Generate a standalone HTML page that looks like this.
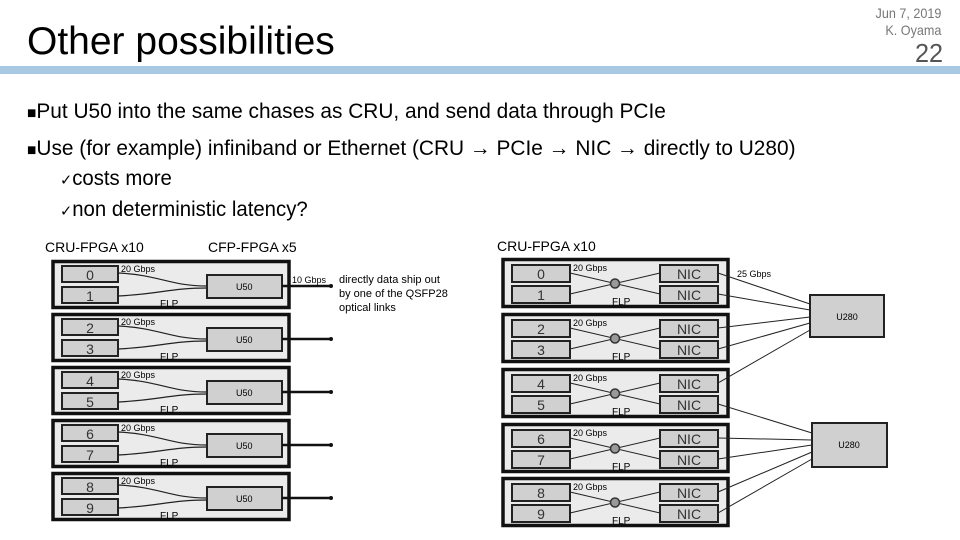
<!DOCTYPE html>
<html><head><meta charset="utf-8"><style>
body{margin:0;width:960px;height:540px;overflow:hidden;background:#fff;font-family:"Liberation Sans",sans-serif;position:relative}
.t{position:absolute;white-space:nowrap;transform-origin:0 0;transform:scaleX(0.97)}
</style></head><body>
<div class="t" style="left:27px;top:20px;font-size:39px;color:#000;transform:none">Other possibilities</div>
<div class="t" style="left:873px;top:5px;font-size:14px;color:#777;text-align:right;line-height:17px;width:76px;transform:scaleX(0.9)">Jun 7, 2019<br>K. Oyama</div>
<div class="t" style="left:915px;top:38px;font-size:26px;color:#555">22</div>
<div style="position:absolute;left:0;top:66px;width:960px;height:8px;background:#a8c8e4"></div>
<div class="t" style="left:27px;top:99px;font-size:21.5px;"><span style="font-size:16px">■</span>Put U50 into the same chases as CRU, and send data through PCIe</div>
<div class="t" style="left:27px;top:136px;font-size:21.5px;"><span style="font-size:16px">■</span>Use (for example) infiniband or Ethernet (CRU → PCIe → NIC → directly to U280)</div>
<div class="t" style="left:60px;top:167px;font-size:21px;"><span style="font-size:15px">✓</span>costs more</div>
<div class="t" style="left:60px;top:198px;font-size:21px;"><span style="font-size:15px">✓</span>non deterministic latency?</div>
<svg width="960" height="540" style="position:absolute;left:0;top:0" font-family="Liberation Sans, sans-serif">
<g font-size="14" fill="#000"><text x="45" y="252">CRU-FPGA x10</text><text x="208" y="252">CFP-FPGA x5</text><text x="497" y="251">CRU-FPGA x10</text></g>
<g font-size="11"><text x="339" y="283">directly data ship out</text><text x="339" y="297">by one of the QSFP28</text><text x="339" y="311">optical links</text>
<text x="292" y="283" font-size="9">10 Gbps</text><text x="737" y="277" font-size="9">25 Gbps</text></g>
<defs><g id="L" text-anchor="start">
<rect x="53" y="1.5" width="236" height="46" fill="#ebebeb" stroke="#111" stroke-width="3.5"/>
<rect x="62" y="6" width="56" height="16" fill="#d0d0d0" stroke="#222" stroke-width="2"/>
<rect x="62" y="27" width="56" height="16" fill="#d0d0d0" stroke="#222" stroke-width="2"/>
<rect x="207" y="15" width="75" height="23" fill="#d0d0d0" stroke="#222" stroke-width="2"/>
<path d="M118 13 C160 15 170 26 207 26 M118 36 C160 34 170 28 207 28" fill="none" stroke="#222" stroke-width="1.2"/>
<line x1="282" y1="26" x2="331" y2="26" stroke="#111" stroke-width="2.5"/>
<text x="121" y="12" font-size="9">20 Gbps</text><text x="160" y="47" font-size="10">FLP</text>
<text x="236" y="30" font-size="9">U50</text></g>
<g id="R" text-anchor="start">
<rect x="503" y="1.5" width="225" height="47" fill="#ebebeb" stroke="#111" stroke-width="3.5"/>
<rect x="512" y="7" width="58" height="17" fill="#d0d0d0" stroke="#222" stroke-width="2"/>
<rect x="512" y="28" width="58" height="17" fill="#d0d0d0" stroke="#222" stroke-width="2"/>
<rect x="660" y="7" width="58" height="17" fill="#d0d0d0" stroke="#222" stroke-width="2"/>
<rect x="660" y="28" width="58" height="17" fill="#d0d0d0" stroke="#222" stroke-width="2"/>
<path d="M570 15 L660 36 M570 36 L660 15" stroke="#222" stroke-width="1"/>
<circle cx="615" cy="25.5" r="4.5" fill="#999" stroke="#333" stroke-width="1.5"/>
<text x="573" y="13" font-size="9">20 Gbps</text><text x="612" y="47" font-size="10">FLP</text>
<text x="689" y="21" font-size="14" text-anchor="middle" fill="#333">NIC</text><text x="689" y="42" font-size="14" text-anchor="middle" fill="#333">NIC</text></g></defs>
<use href="#L" y="260"/><use href="#L" y="313"/><use href="#L" y="366"/><use href="#L" y="419"/><use href="#L" y="472"/>
<use href="#R" y="258"/><use href="#R" y="313"/><use href="#R" y="368"/><use href="#R" y="423"/><use href="#R" y="477"/>
<g font-size="14" fill="#333" text-anchor="middle">
<text x="90" y="280">0</text><text x="90" y="301">1</text>
<text x="90" y="333">2</text><text x="90" y="354">3</text>
<text x="90" y="386">4</text><text x="90" y="407">5</text>
<text x="90" y="439">6</text><text x="90" y="460">7</text>
<text x="90" y="492">8</text><text x="90" y="513">9</text>
<text x="541" y="279">0</text><text x="541" y="300">1</text>
<text x="541" y="334">2</text><text x="541" y="355">3</text>
<text x="541" y="389">4</text><text x="541" y="410">5</text>
<text x="541" y="444">6</text><text x="541" y="465">7</text>
<text x="541" y="498">8</text><text x="541" y="519">9</text>
</g>
<g fill="#111"><circle cx="331" cy="286" r="2"/><circle cx="331" cy="339" r="2"/><circle cx="331" cy="392" r="2"/><circle cx="331" cy="445" r="2"/><circle cx="331" cy="498" r="2"/></g>
<rect x="810" y="295" width="74" height="42" fill="#d0d0d0" stroke="#222" stroke-width="2"/>
<text x="847" y="320" font-size="9" text-anchor="middle">U280</text>
<rect x="812" y="423" width="75" height="44" fill="#d0d0d0" stroke="#222" stroke-width="2"/>
<text x="849" y="448" font-size="9" text-anchor="middle">U280</text>
<g stroke="#222" stroke-width="1" fill="none">
<path d="M718 273 L810 304 M718 294 L810 310 M718 328 L810 317 M718 349 L810 323 M718 383 L810 330"/>
<path d="M718 404 L812 433 M718 438 L812 440 M718 459 L812 445 M718 492 L812 452 M718 513 L812 459"/>
</g>
</svg>
</body></html>
